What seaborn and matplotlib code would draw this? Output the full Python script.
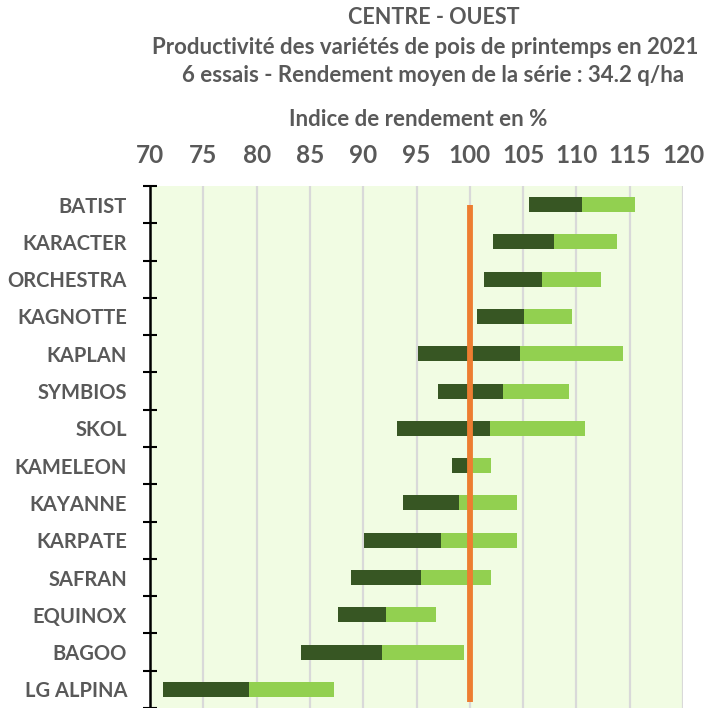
import numpy as np
import pandas as pd
import matplotlib
matplotlib.use('Agg')
import matplotlib.pyplot as plt
import seaborn as sns

# data (indice de rendement en %)
varietes = ['BATIST', 'KARACTER', 'ORCHESTRA', 'KAGNOTTE', 'KAPLAN', 'SYMBIOS', 'SKOL',
            'KAMELEON', 'KAYANNE', 'KARPATE', 'SAFRAN', 'EQUINOX', 'BAGOO', 'LG ALPINA']
mini = [105.6, 102.2, 101.3, 100.7, 95.1, 97.0, 93.2, 98.3, 93.7, 90.1, 88.9, 87.6, 84.2, 71.2]
moyenne = [110.5, 107.9, 106.8, 105.1, 104.7, 103.1, 101.9, 100.1, 99.0, 97.3, 95.4, 92.1, 91.8, 79.3]
maxi = [115.5, 113.8, 112.3, 109.6, 114.4, 109.3, 110.8, 102.0, 104.4, 104.4, 102.0, 96.8, 99.5, 87.3]
x_ticks = [70, 75, 80, 85, 90, 95, 100, 105, 110, 115, 120]
ref_x = [100, 100]
ref_y = [0, 13.35]

df = pd.DataFrame({'variete': varietes, 'mini': mini, 'moyenne': moyenne, 'maxi': maxi})
df['bas'] = df['moyenne'] - df['mini']
df['haut'] = df['maxi'] - df['moyenne']

grey = '#595959'
sns.set_style('white')
plt.rcParams['font.family'] = ['Lato', 'DejaVu Sans']
plt.rcParams['font.weight'] = 'bold'

fig = plt.figure(figsize=(7.07, 7.08), dpi=100)
ax = fig.add_axes([150 / 707, 0, 533 / 707, 522 / 708])
ax.set_facecolor('#F1FCE3')

# floating bars: dark from min to mean, light from mean to max
sns.barplot(data=df, x='bas', y='variete', orient='y', color='#375623', saturation=1,
            width=0.4, left=df['mini'].values, linewidth=0, errorbar=None, ax=ax, zorder=3)
sns.barplot(data=df, x='haut', y='variete', orient='y', color='#92D050', saturation=1,
            width=0.4, left=df['moyenne'].values, linewidth=0, errorbar=None, ax=ax, zorder=3)
ax.plot(ref_x, ref_y, color='#ED7D31', lw=4.2, solid_capstyle='butt', zorder=4)

ax.set_xlim(70, 120)
ax.set_ylim(13.5, -0.5)
ax.xaxis.tick_top()
ax.set_xticks(x_ticks)
ax.set_xticklabels([str(t) for t in x_ticks], fontsize=17.5, color=grey, fontweight='bold')
ax.tick_params(axis='x', length=0, pad=14)
for t in x_ticks[1:]:
    ax.axvline(t, color='#D9D9D9', lw=1.6, zorder=1)

ax.set_yticks(range(len(varietes)))
ax.set_yticklabels(varietes, fontsize=14.5, color=grey, fontweight='bold')
ax.tick_params(axis='y', which='major', length=0, pad=16.5)
ax.set_yticks(np.arange(-0.5, len(varietes), 1), minor=True)
ax.tick_params(axis='y', which='minor', left=True, length=10, width=1.5,
               direction='inout', color='black')
ax.set_xlabel('')
ax.set_ylabel('')
for s in ['top', 'right', 'bottom']:
    ax.spines[s].set_visible(False)
ax.spines['left'].set_color('black')
ax.spines['left'].set_linewidth(1.8)
ax.spines['left'].set_zorder(5)

fig.text(434 / 707, 1 - 17 / 708, 'CENTRE - OUEST', ha='center', va='center',
         fontsize=15.5, color=grey, fontweight='bold')
fig.text(425 / 707, 1 - 47 / 708, 'Productivité des variétés de pois de printemps en 2021',
         ha='center', va='center', fontsize=16, color=grey, fontweight='bold')
fig.text(433 / 707, 1 - 76 / 708, '6 essais - Rendement moyen de la série : 34.2 q/ha',
         ha='center', va='center', fontsize=16, color=grey, fontweight='bold')
fig.text(418 / 707, 1 - 120 / 708, 'Indice de rendement en %', ha='center', va='center',
         fontsize=16, color=grey, fontweight='bold')

fig.savefig('out.png', dpi=100, facecolor='white')
